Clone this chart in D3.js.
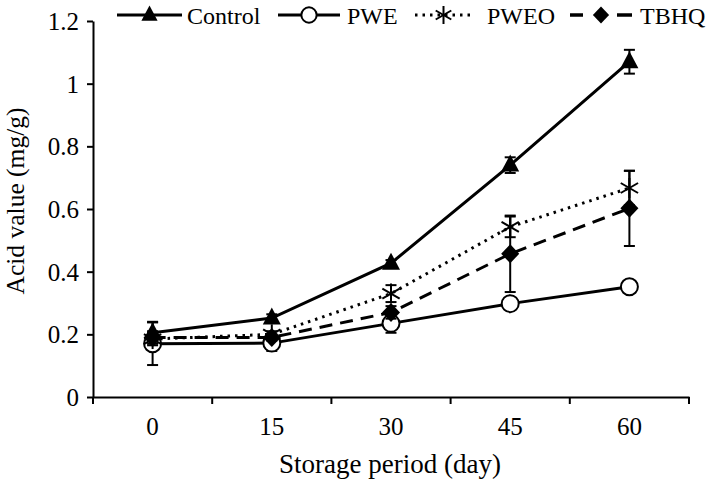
<!DOCTYPE html>
<html><head><meta charset="utf-8">
<script src="https://cdn.jsdelivr.net/npm/d3@7"></script>
<style>body{margin:0;background:#fff}</style>
</head><body>
<svg id="c" width="709" height="482"></svg>
<script>
const FONT = "'Liberation Serif','Times New Roman',Times,serif";
const days = ["0","15","30","45","60"];
const yTicks = [0,0.2,0.4,0.6,0.8,1,1.2];
const seriesNames = ["Control","PWE","PWEO","TBHQ"];
const controlVals = [0.205,0.252,0.427,0.740,1.070];
const controlErr  = [0.035,0.012,0.010,0.025,0.038];
const pweVals = [0.170,0.172,0.235,0.298,0.352];
const pweErr  = [0.068,0.025,0.030,0.010,0.010];
const pweoVals = [0.185,0.200,0.330,0.543,0.667];
const pweoErr  = [0.020,0.010,0.027,0.033,0.055];
const tbhqVals = [0.190,0.190,0.270,0.457,0.602];
const tbhqErr  = [0.020,0.010,0.020,0.122,0.120];

const svg = d3.select("#c");
const x = d3.scaleBand().domain(days).range([93,689]);
const y = d3.scaleLinear().domain([0,1.2]).range([397,21]);

// axes
const yAx = svg.append("g").attr("transform","translate(93,0)")
  .call(d3.axisLeft(y).tickValues(yTicks).tickSize(6).tickSizeOuter(0).tickFormat(d3.format("")));
yAx.selectAll("path,line").attr("stroke","#000").attr("stroke-width",2);
yAx.selectAll("text").attr("font-family",FONT).attr("font-size",25).attr("x",-14).attr("dy","0.34em").attr("fill","#000");
const xAx = svg.append("g").attr("transform","translate(0,397)")
  .call(d3.axisBottom(x).tickSize(0).tickSizeOuter(0));
xAx.select("path").attr("stroke","#000").attr("stroke-width",2);
xAx.selectAll("text").attr("font-family",FONT).attr("font-size",25).attr("dy",0).attr("y",38).attr("fill","#000");
// boundary ticks
const bounds = days.map(d=>x(d)).concat([x.range()[1]]);
svg.append("g").selectAll("line").data(bounds).join("line")
  .attr("x1",d=>d).attr("x2",d=>d).attr("y1",397).attr("y2",404)
  .attr("stroke","#000").attr("stroke-width",2);

svg.append("text").attr("x",390).attr("y",473).attr("text-anchor","middle")
  .attr("font-family",FONT).attr("font-size",27).text("Storage period (day)");
svg.append("text").attr("transform","translate(24,201) rotate(-90)").attr("text-anchor","middle")
  .attr("font-family",FONT).attr("font-size",25.5).text("Acid value (mg/g)");

const series = [
  {name:seriesNames[0], vals:controlVals, err:controlErr, dash:null, marker:"tri"},
  {name:seriesNames[1], vals:pweVals, err:pweErr, dash:null, marker:"circle"},
  {name:seriesNames[2], vals:pweoVals, err:pweoErr, dash:"2.5,5", marker:"star"},
  {name:seriesNames[3], vals:tbhqVals, err:tbhqErr, dash:"13,8", marker:"diamond"}
];
const cx = d => x(d)+x.bandwidth()/2;

function drawMarker(g, type, px, py, s){
  s = s||1;
  if(type==="tri"){
    const w=9*s, h=17*s;
    g.append("path").attr("d",`M${px},${py-h*0.62}L${px+w},${py+h*0.38}L${px-w},${py+h*0.38}Z`).attr("fill","#000");
  } else if(type==="circle"){
    g.append("circle").attr("cx",px).attr("cy",py).attr("r",8.5*s).attr("fill","#fff").attr("stroke","#000").attr("stroke-width",2);
  } else if(type==="star"){
    const r=10*s;
    [0,60,120].forEach(a=>{
      const rad=(a+90)*Math.PI/180;
      g.append("line").attr("x1",px-r*Math.cos(rad)).attr("y1",py-r*Math.sin(rad))
        .attr("x2",px+r*Math.cos(rad)).attr("y2",py+r*Math.sin(rad)).attr("stroke","#000").attr("stroke-width",2);
    });
  } else if(type==="diamond"){
    const r=9.5*s;
    g.append("path").attr("d",`M${px},${py-r}L${px+r*0.95},${py}L${px},${py+r}L${px-r*0.95},${py}Z`).attr("fill","#000");
  }
}

series.forEach(s=>{
  const g = svg.append("g");
  const line = d3.line().x((v,i)=>cx(days[i])).y(v=>y(v));
  g.append("path").attr("d",line(s.vals)).attr("fill","none").attr("stroke","#000")
    .attr("stroke-width",3).attr("stroke-dasharray",s.dash);
  s.vals.forEach((v,i)=>{
    const px=cx(days[i]), e=s.err[i];
    g.append("line").attr("x1",px).attr("x2",px).attr("y1",y(v-e)).attr("y2",y(v+e)).attr("stroke","#000").attr("stroke-width",2);
    [v-e,v+e].forEach(t=>g.append("line").attr("x1",px-5.5).attr("x2",px+5.5).attr("y1",y(t)).attr("y2",y(t)).attr("stroke","#000").attr("stroke-width",2));
  });
  s.vals.forEach((v,i)=>drawMarker(g,s.marker,cx(days[i]),y(v)));
});

// legend
const legendX0 = [117,278,415,570];
const legendX1 = [182,340,472,632];
const legendTx = [187,347,487,640];
series.forEach((s,i)=>{
  const g=svg.append("g");
  const x0=legendX0[i], x1=legendX1[i], ly=15, mid=(x0+x1)/2;
  if(s.name==="TBHQ"){
    g.append("line").attr("x1",x0).attr("x2",x0+13).attr("y1",ly).attr("y2",ly).attr("stroke","#000").attr("stroke-width",3.5);
    g.append("line").attr("x1",x1-15).attr("x2",x1).attr("y1",ly).attr("y2",ly).attr("stroke","#000").attr("stroke-width",3.5);
  } else {
    g.append("line").attr("x1",x0).attr("x2",x1).attr("y1",ly).attr("y2",ly).attr("stroke","#000")
      .attr("stroke-width",3).attr("stroke-dasharray",s.dash);
  }
  drawMarker(g,s.marker,mid,ly,0.9);
  g.append("text").attr("x",legendTx[i]).attr("y",ly+9).attr("font-family",FONT).attr("font-size",24).text(s.name);
});
</script>
</body></html>
